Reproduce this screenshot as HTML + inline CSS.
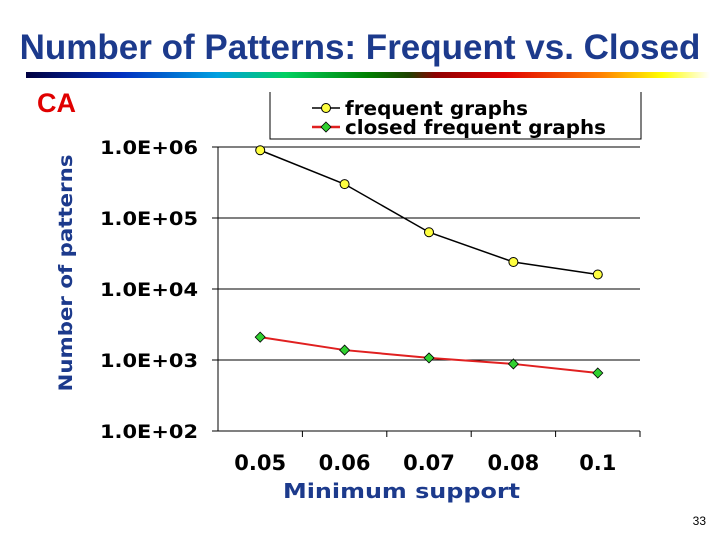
<!DOCTYPE html>
<html><head><meta charset="utf-8"><style>
body{margin:0;width:720px;height:540px;background:#fff;overflow:hidden;position:relative;font-family:"Liberation Sans",sans-serif}
#title{position:absolute;left:0;top:28px;width:720px;text-align:center;font-size:35px;font-weight:bold;color:#1c3a8c;white-space:nowrap}
#bar{position:absolute;left:26px;top:72px;width:684px;height:6px;background:linear-gradient(to right,#000040,#0030c0 14%,#00a0e0 28%,#00d060 38%,#008000 50%,#204000 56%,#900000 60%,#e00000 70%,#ff8000 84%,#ffff00 93%,#ffffff)}
#ca{position:absolute;left:37px;top:88px;font-size:27px;font-weight:bold;color:#e00000}
#pg{position:absolute;right:14px;bottom:12px;font-size:12px;color:#000}
</style></head><body>
<div id="title">Number of Patterns: Frequent vs. Closed</div>
<div id="bar"></div>
<div id="ca">CA</div>
<div id="pg">33</div>
<svg id="chart" width="720" height="540" style="position:absolute;left:0;top:0"></svg>
<script>
const categories=["0.05","0.06","0.07","0.08","0.1"];
const frequent=[900000,300000,63000,24000,16000];
const closed=[2100,1380,1070,880,656];
const yTicks=[2,3,4,5,6];
const yTickLabels=["1.0E+02","1.0E+03","1.0E+04","1.0E+05","1.0E+06"];
const NS="http://www.w3.org/2000/svg";
const svg=document.getElementById('chart');
const x0=218,x1=640,yTop=147,yBot=431;
const xs=i=>x0+(i+0.5)*(x1-x0)/categories.length;
const ys=v=>yBot-(Math.log10(v)-2)/4*(yBot-yTop);
function mk(t,a,p){const e=document.createElementNS(NS,t);for(const k in a)e.setAttribute(k,a[k]);(p||svg).appendChild(e);return e;}
yTicks.forEach((d,i)=>{const y=ys(Math.pow(10,d));
 const g=mk('line',{x1:x0-6,x2:x1,y1:y,y2:y,stroke:'#000','stroke-width':1});
 
 
 const t=mk('text',{x:100,y:y+7,textLength:98,lengthAdjust:'spacingAndGlyphs','font-family':'DejaVu Sans, sans-serif','font-weight':'bold','font-size':'19'});
 t.textContent=yTickLabels[i];
 
 
});
const ax=mk('line',{x1:x0,x2:x0,y1:yTop,y2:yBot,stroke:'#000'});


categories.forEach((c,i)=>{
 const tk=mk('line',{x1:x0+(i+1)*(x1-x0)/categories.length,x2:x0+(i+1)*(x1-x0)/categories.length,y1:yBot,y2:yBot+6,stroke:'#000'});
 
 
 const t=mk('text',{x:xs(i),y:470,'text-anchor':'middle','font-family':'DejaVu Sans, sans-serif','font-weight':'bold','font-size':'21'});
 t.textContent=c;
 
 
});
const xt=mk('text',{x:283,y:498,textLength:237,lengthAdjust:'spacingAndGlyphs','font-family':'DejaVu Sans, sans-serif','font-weight':'bold','font-size':'20',fill:'#1c3a8c'});
xt.textContent='Minimum support';


const yt=mk('text',{x:0,y:0,transform:'translate(72,273) rotate(-90)','text-anchor':'middle',textLength:237,lengthAdjust:'spacingAndGlyphs','font-family':'DejaVu Sans, sans-serif','font-weight':'bold','font-size':'19',fill:'#1c3a8c'});
yt.textContent='Number of patterns';


const fl=mk('polyline',{points:frequent.map((v,i)=>xs(i)+','+ys(v)).join(' '),fill:'none',stroke:'#000','stroke-width':1.5});


const cl=mk('polyline',{points:closed.map((v,i)=>xs(i)+','+ys(v)).join(' '),fill:'none',stroke:'#e02020','stroke-width':2});


frequent.forEach((v,i)=>{const c=mk('circle',{cx:xs(i),cy:ys(v),r:4.5,fill:'#ffff40',stroke:'#000','stroke-width':1});
 
 });
closed.forEach((v,i)=>{const x=xs(i),y=ys(v);const d=mk('polygon',{points:`${x},${y-5} ${x+5},${y} ${x},${y+5} ${x-5},${y}`,fill:'#30d030',stroke:'#000','stroke-width':0.8});
 
 });
const lg=mk('g',{});


mk('path',{d:'M270,92 V139 H641 V92',fill:'none',stroke:'#000'},lg);
mk('line',{x1:312,x2:340,y1:108,y2:108,stroke:'#000','stroke-width':1.5},lg);
mk('circle',{cx:326,cy:108,r:4.5,fill:'#ffff40',stroke:'#000'},lg);
mk('line',{x1:312,x2:340,y1:127,y2:127,stroke:'#e02020','stroke-width':2.5},lg);
mk('polygon',{points:'326,122 331,127 326,132 321,127',fill:'#30d030',stroke:'#000','stroke-width':0.8},lg);
const l1=mk('text',{x:345,y:115,textLength:183,lengthAdjust:'spacingAndGlyphs','font-family':'DejaVu Sans, sans-serif','font-weight':'bold','font-size':'19.5'},lg);
l1.textContent='frequent graphs';


const l2=mk('text',{x:345,y:134,textLength:261,lengthAdjust:'spacingAndGlyphs','font-family':'DejaVu Sans, sans-serif','font-weight':'bold','font-size':'19.5'},lg);
l2.textContent='closed frequent graphs';


</script>
</body></html>
